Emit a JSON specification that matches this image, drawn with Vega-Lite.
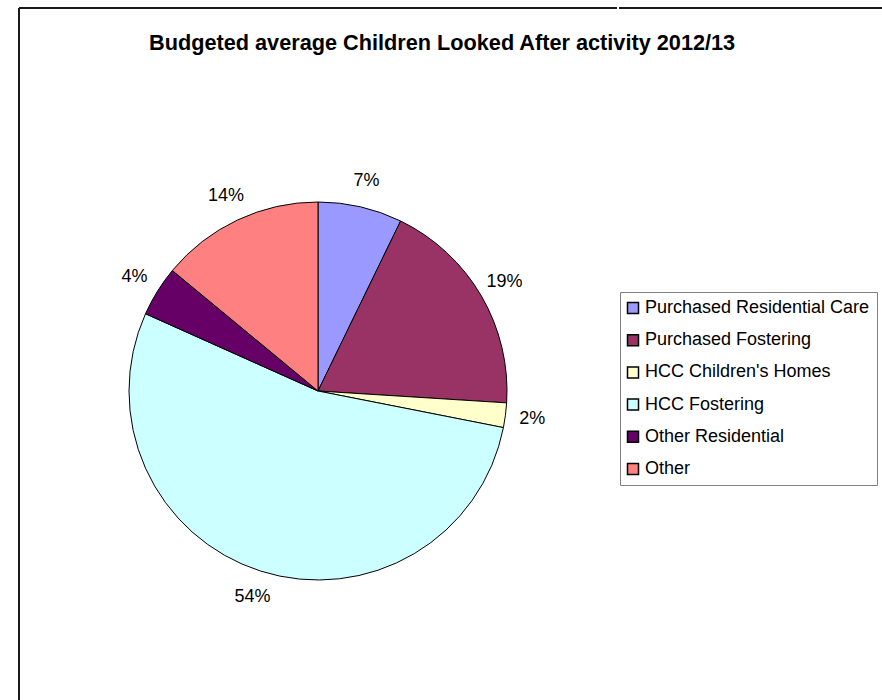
{
  "$schema": "https://vega.github.io/schema/vega-lite/v6.json",
  "autosize": {"type": "pad"},
  "padding": {"left": 18, "top": 7, "right": 0, "bottom": 0},
  "background": "white",
  "title": {
    "text": "Budgeted average Children Looked After activity 2012/13",
    "font": "Liberation Sans",
    "fontSize": 21.7,
    "fontWeight": "bold",
    "color": "#000000",
    "anchor": "start",
    "frame": "group",
    "baseline": "alphabetic",
    "offset": -44,
    "dx": 130,
    "dy": 21
  },
  "data": {
    "values": [
      {"rank": 1, "category": "Purchased Residential Care", "share": 0.072},
      {"rank": 2, "category": "Purchased Fostering", "share": 0.188},
      {"rank": 3, "category": "HCC Children's Homes", "share": 0.021},
      {"rank": 4, "category": "HCC Fostering", "share": 0.536},
      {"rank": 5, "category": "Other Residential", "share": 0.043},
      {"rank": 6, "category": "Other", "share": 0.140}
    ]
  },
  "spacing": 0,
  "hconcat": [
    {
      "width": 598,
      "height": 766,
      "view": {"stroke": "#1a1a1a", "strokeWidth": 2, "strokeDash": [598, 1364, 766, 0]},
      "layer": [
        {
          "mark": {"type": "arc", "outerRadius": 189, "stroke": "#000000", "strokeWidth": 1},
          "encoding": {
            "theta": {"field": "share", "type": "quantitative", "stack": true},
            "order": {"field": "rank", "type": "quantitative"},
            "color": {
              "field": "category",
              "type": "nominal",
              "sort": ["Purchased Residential Care", "Purchased Fostering", "HCC Children's Homes", "HCC Fostering", "Other Residential", "Other"],
              "scale": {
                "domain": ["Purchased Residential Care", "Purchased Fostering", "HCC Children's Homes", "HCC Fostering", "Other Residential", "Other"],
                "range": ["#9999FF", "#993366", "#FFFFCC", "#CCFFFF", "#660066", "#FF8080"]
              },
              "legend": {
                "title": null,
                "orient": "none",
                "legendX": 601,
                "legendY": 284,
                "symbolType": "square",
                "symbolSize": 121,
                "symbolStrokeColor": "#000000",
                "symbolStrokeWidth": 1.5,
                "symbolOpacity": 1,
                "symbolOffset": -3,
                "labelFont": "Liberation Sans",
                "labelFontSize": 18,
                "labelColor": "#000000",
                "labelLimit": 400,
                "labelOffset": 3,
                "rowPadding": 14.2,
                "padding": 7,
                "strokeColor": "#808080"
              }
            }
          }
        },
        {
          "mark": {"type": "text", "radius": 216, "font": "Liberation Sans", "fontSize": 18, "color": "#000000"},
          "encoding": {
            "theta": {"field": "share", "type": "quantitative", "stack": true},
            "order": {"field": "rank", "type": "quantitative"},
            "text": {"field": "share", "type": "quantitative", "format": ".0%"}
          }
        }
      ]
    },
    {
      "width": 266,
      "height": 766,
      "view": {"stroke": "#1a1a1a", "strokeWidth": 2, "strokeDash": [266, 3000]},
      "mark": {"type": "text", "text": ""},
      "encoding": {}
    }
  ]
}
